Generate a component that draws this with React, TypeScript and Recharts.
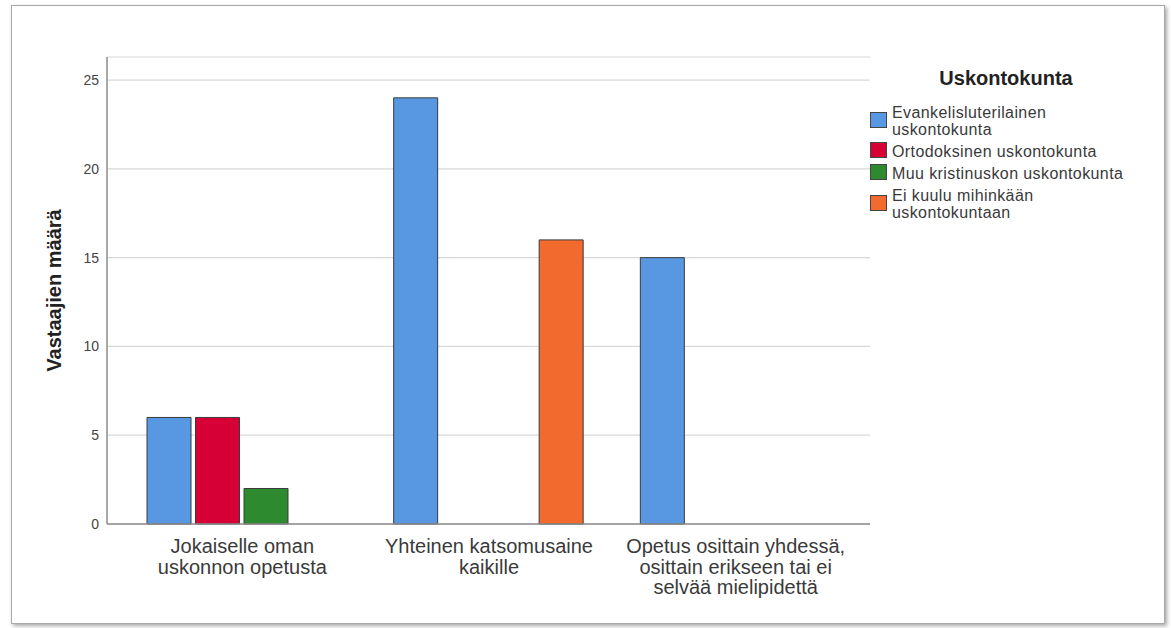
import React from "react";
import { BarChart, Bar, XAxis, YAxis, CartesianGrid, Legend, Label } from "recharts";

const categories = [
  "Jokaiselle oman uskonnon opetusta",
  "Yhteinen katsomusaine kaikille",
  "Opetus osittain yhdessä, osittain erikseen tai ei selvää mielipidettä",
];
const categoryLines = [
  ["Jokaiselle oman", "uskonnon opetusta"],
  ["Yhteinen katsomusaine", "kaikille"],
  ["Opetus osittain yhdessä,", "osittain erikseen tai ei", "selvää mielipidettä"],
];

const evankelisluterilainen = [6, 24, 15];
const ortodoksinen = [6, null, null];
const muuKristinusko = [2, null, null];
const eiKuulu = [null, 16, null];

const seriesKeys = ["evl", "ort", "muu", "ei"];
const seriesNames = [
  "Evankelisluterilainen uskontokunta",
  "Ortodoksinen uskontokunta",
  "Muu kristinuskon uskontokunta",
  "Ei kuulu mihinkään uskontokuntaan",
];
const legendLines = [
  ["Evankelisluterilainen", "uskontokunta"],
  ["Ortodoksinen uskontokunta"],
  ["Muu kristinuskon uskontokunta"],
  ["Ei kuulu mihinkään", "uskontokuntaan"],
];
const seriesColors = ["#5898E2", "#D70036", "#2E8A2E", "#F26A2E"];

const yTicks = [0, 5, 10, 15, 20, 25];
const legendTitle = "Uskontokunta";
const yTitle = "Vastaajien määrä";

const data = categories.map((c, i) => ({
  name: c,
  evl: evankelisluterilainen[i],
  ort: ortodoksinen[i],
  muu: muuKristinusko[i],
  ei: eiKuulu[i],
}));

const FONT = "'Liberation Sans', Arial, Helvetica, sans-serif";

const XTick = (props: any) => {
  const { x, y, index } = props;
  const lines = categoryLines[index] || [];
  return (
    <g>
      {lines.map((l: string, k: number) => (
        <text
          key={k}
          x={x}
          y={y + 29 + k * 20.5}
          textAnchor="middle"
          fontSize={20}
          fontFamily={FONT}
          fill="#3a3a3a"
        >
          {l}
        </text>
      ))}
    </g>
  );
};

const LegendContent = () => (
  <div style={{ fontFamily: FONT, color: "#3a3a3a", width: 290 }}>
    <div
      style={{
        fontWeight: "bold",
        fontSize: 20,
        lineHeight: "24px",
        textAlign: "center",
        color: "#222",
        marginBottom: 14,
        width: 272,
      }}
    >
      {legendTitle}
    </div>
    {seriesNames.map((n, i) => (
      <div
        key={n}
        style={{ display: "flex", alignItems: "center", marginBottom: 5 }}
      >
        <div
          style={{
            width: 17,
            height: 16,
            background: seriesColors[i],
            border: "1px solid #444",
            boxSizing: "border-box",
            marginRight: 5,
            flex: "none",
            position: "relative",
            top: -1.5,
          }}
        />
        <div style={{ fontSize: 16, lineHeight: "17px", letterSpacing: 0.4, whiteSpace: "nowrap" }}>
          {legendLines[i].map((l, k) => (
            <div key={k}>{l}</div>
          ))}
        </div>
      </div>
    ))}
  </div>
);

export default function App() {
  return (
    <div style={{ position: "absolute", left: 0, top: 0, width: 1171, height: 628, background: "#fff" }}>
      <div
        style={{
          position: "absolute",
          left: 11,
          top: 5,
          width: 1152,
          height: 617,
          border: "1px solid #a8a8a8",
          boxShadow: "2px 2px 4px rgba(0,0,0,0.35)",
          background: "#fff",
        }}
      />
      <div style={{ position: "absolute", left: 0, top: 0 }}>
        <BarChart
          width={1171}
          height={628}
          data={data}
          margin={{ top: 57, right: 301, bottom: 74, left: 47 }}
          barCategoryGap={28}
          barGap={4.5}
        >
          <CartesianGrid vertical={false} stroke="#d8d8d8" strokeWidth={1.2} />
          <XAxis
            dataKey="name"
            height={30}
            tick={<XTick />}
            tickLine={false}
            tickSize={0}
            tickMargin={0}
            interval={0}
            padding={{ left: 12, right: 11 }}
            axisLine={{ stroke: "#8c8c8c", strokeWidth: 1.5 }}
          />
          <YAxis
            width={60}
            domain={[0, 26.3]}
            ticks={yTicks}
            tickLine={false}
            tickSize={0}
            tickMargin={8}
            axisLine={{ stroke: "#8c8c8c", strokeWidth: 1.5 }}
            tick={{ fontSize: 14, fontFamily: FONT, fill: "#444" }}
          >
            <Label
              value={yTitle}
              angle={-90}
              position="insideLeft"
              offset={7}
              style={{
                textAnchor: "middle",
                fontSize: 20,
                fontWeight: "bold",
                fontFamily: FONT,
                fill: "#222",
              }}
            />
          </YAxis>
          <Legend
            layout="vertical"
            align="center"
            verticalAlign="middle"
            content={<LegendContent />}
            wrapperStyle={{ left: 870, top: 66, width: 300, height: 200 }}
          />
          {seriesKeys.map((k, i) => (
            <Bar
              key={k}
              dataKey={k}
              name={seriesNames[i]}
              fill={seriesColors[i]}
              stroke="#3a3a3a"
              strokeWidth={1}
              isAnimationActive={false}
            />
          ))}
        </BarChart>
      </div>
    </div>
  );
}
